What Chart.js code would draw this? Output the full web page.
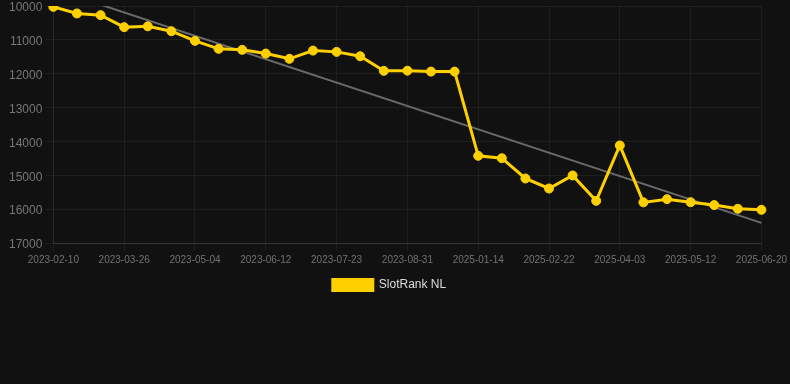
<!DOCTYPE html>
<html>
<head>
<meta charset="utf-8">
<script src="https://cdn.jsdelivr.net/npm/chart.js@4/dist/chart.umd.min.js"></script>
<style>
  html, body { margin: 0; padding: 0; background: #111111; }
  #wrap { width: 790px; height: 301px; position: relative; }
</style>
</head>
<body>
<div id="wrap"><canvas id="myChart"></canvas></div>
<script>
// dates on the x axis (only every third one is printed)
const dates = [
    '2023-02-10', '2023-02-24', '2023-03-11', '2023-03-26', '2023-04-08', '2023-04-21',
    '2023-05-04', '2023-05-17', '2023-05-30', '2023-06-12', '2023-06-26', '2023-07-09',
    '2023-07-23', '2023-08-05', '2023-08-18', '2023-08-31', '2023-09-13', '2023-09-26',
    '2025-01-14', '2025-01-27', '2025-02-09', '2025-02-22', '2025-03-07', '2025-03-20',
    '2025-04-03', '2025-04-16', '2025-04-29', '2025-05-12', '2025-05-25', '2025-06-07',
    '2025-06-20'
];

// rank values
const ranks = [
    10025, 10220, 10270, 10625, 10600, 10745, 11030, 11265, 11295, 11405, 11560, 11317,
    11355, 11485, 11915, 11910, 11938, 11938, 14425, 14495, 15095, 15390, 15005, 15755,
    14120, 15800, 15705, 15795, 15880, 15990, 16020
];

// trend line end points
const trendStart = 9500;
const trendEnd = 16405;

const yTicks = [10000, 11000, 12000, 13000, 14000, 15000, 16000, 17000];

const trend = dates.map((d, i) => i === 0 ? trendStart : (i === dates.length - 1 ? trendEnd : null));

const gridCol = 'rgba(255,255,255,0.055)';
const font = 'Liberation Sans, Arial, sans-serif';

const ctx = document.getElementById('myChart').getContext('2d');

const data = {
    labels: dates,
    datasets: [{
        label: 'SlotRank NL',
        data: ranks,
        borderColor: '#ffd000',
        backgroundColor: '#ffd000',
        borderWidth: 3,
        pointRadius: 4.5,
        pointBorderWidth: 1,
        pointHoverRadius: 5,
        pointBackgroundColor: '#ffd000',
        pointBorderColor: '#ffd000',
        tension: 0,
        order: 1
    }, {
        label: 'trend',
        data: trend,
        borderColor: '#6a6a6a',
        borderWidth: 2,
        pointRadius: 0,
        spanGaps: true,
        fill: false,
        order: 2
    }]
};

const config = {
    type: 'line',
    data: data,
    options: {
        responsive: true,
        maintainAspectRatio: false,
        animation: false,
        layout: { padding: { left: 6, right: 17 } },
        plugins: {
            legend: {
                position: 'bottom',
                labels: {
                    color: '#dddddd',
                    font: { family: font, size: 12 },
                    boxWidth: 40,
                    boxHeight: 11,
                    filter: (item) => item.text === 'SlotRank NL'
                }
            },
            tooltip: { enabled: false }
        },
        scales: {
            x: {
                grid: {
                    tickLength: 8,
                    color: (c) => c.index % 3 === 0 ? gridCol : 'rgba(0,0,0,0)'
                },
                border: { color: 'rgba(255,255,255,0.1)' },
                ticks: {
                    color: '#727272',
                    autoSkip: false,
                    maxRotation: 0,
                    font: { family: font, size: 10 },
                    callback: function (value, index) {
                        return index % 3 === 0 ? this.getLabelForValue(value) : '';
                    }
                }
            },
            y: {
                reverse: true,
                min: yTicks[0],
                max: yTicks[yTicks.length - 1],
                grid: { color: gridCol, tickLength: 8 },
                border: { color: gridCol },
                afterBuildTicks: (axis) => { axis.ticks = yTicks.map(v => ({ value: v })); },
                ticks: {
                    color: '#777777',
                    labelOffset: 2,
                    font: { family: font, size: 12, lineHeight: 0.5 },
                    callback: (v) => String(v)
                }
            }
        }
    }
};

const myChart = new Chart(ctx, config);
</script>
</body>
</html>
